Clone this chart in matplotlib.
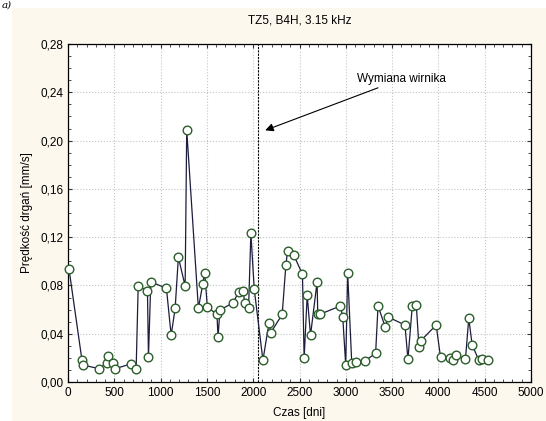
import matplotlib
matplotlib.use('Agg')
import matplotlib.pyplot as plt
from matplotlib.patches import Rectangle
from matplotlib.ticker import MultipleLocator, FuncFormatter

plt.rcParams['font.family'] = ['Liberation Sans', 'DejaVu Sans']

# czas [dni] i predkosc drgan [mm/s]
days = [10, 151, 165, 338, 420, 434, 481, 506, 682, 736, 758, 858, 869, 894,
        1063, 1114, 1157, 1192, 1265, 1282, 1408, 1455, 1476, 1505, 1609, 1620,
        1641, 1785, 1843, 1893, 1907, 1950, 1975, 2011, 2105, 2170, 2191, 2313,
        2353, 2371, 2439, 2532, 2550, 2583, 2619, 2690, 2697, 2726, 2942, 2967,
        2999, 3020, 3064, 3114, 3211, 3322, 3348, 3427, 3455, 3639, 3671, 3718,
        3761, 3790, 3807, 3976, 4023, 4127, 4159, 4192, 4292, 4328, 4364, 4436,
        4469, 4533]
velocity = [0.094, 0.018, 0.014, 0.011, 0.016, 0.0215, 0.016, 0.011, 0.015,
            0.011, 0.0795, 0.0754, 0.0207, 0.083, 0.0776, 0.0387, 0.061, 0.1033,
            0.0795, 0.209, 0.061, 0.081, 0.0906, 0.0621, 0.056, 0.037, 0.0597,
            0.0657, 0.0748, 0.0757, 0.0652, 0.0616, 0.1234, 0.077, 0.018, 0.0486,
            0.041, 0.056, 0.097, 0.1085, 0.105, 0.0892, 0.0196, 0.0718, 0.0387,
            0.083, 0.0563, 0.0563, 0.063, 0.0539, 0.0141, 0.0906, 0.016, 0.0163,
            0.0177, 0.0238, 0.063, 0.0453, 0.0539, 0.0472, 0.0188, 0.063, 0.064,
            0.0293, 0.034, 0.0472, 0.0204, 0.0199, 0.018, 0.0221, 0.0188, 0.0528,
            0.031, 0.018, 0.0188, 0.018]
replacement_day = 2055

fig = plt.figure(figsize=(5.46, 4.21), dpi=100, facecolor='white')
fig.patches.append(Rectangle((12 / 546, 0), 1, 1 - 8 / 421, transform=fig.transFigure,
                             facecolor='#fdf8ee', edgecolor='none', zorder=-10))
fig.text(2 / 546, 1 - 1 / 421, 'a)', fontsize=7.5, style='italic', family='DejaVu Serif',
         va='top', ha='left')

ax = fig.add_axes([68 / 546, 1 - 382 / 421, 463 / 546, 338 / 421])
ax.set_facecolor('white')

ax.plot(days, velocity, color='#1c1c3c', lw=0.9, marker='o', markersize=6.2,
        markerfacecolor='white', markeredgecolor='#2b5e2b', markeredgewidth=1.0,
        clip_on=False, zorder=3)

ax.axvline(replacement_day, color='black', lw=0.8, ls=(0, (2, 1)), zorder=2)
ax.annotate('Wymiana wirnika', xy=(2130, 0.2085), xytext=(3120, 0.251),
            fontsize=8.5, va='center', ha='left',
            arrowprops=dict(arrowstyle='-|>', color='black', lw=0.8,
                            mutation_scale=12, shrinkA=0, shrinkB=0))

ax.set_xlim(0, 5000)
ax.set_ylim(0, 0.28)
ax.xaxis.set_major_locator(MultipleLocator(500))
ax.xaxis.set_minor_locator(MultipleLocator(100))
ax.yaxis.set_major_locator(MultipleLocator(0.04))
ax.yaxis.set_minor_locator(MultipleLocator(0.01))
ax.yaxis.set_major_formatter(FuncFormatter(lambda v, p: f'{v:.2f}'.replace('.', ',')))
ax.tick_params(which='both', direction='in', top=True, right=True, labelsize=8.5,
               color='#333333')
ax.tick_params(which='major', length=3)
ax.tick_params(which='minor', length=2)
ax.grid(True, which='major', color='#c4c4c4', ls=':', lw=0.8)
for s in ax.spines.values():
    s.set_linewidth(0.9)

ax.set_title('TZ5, B4H, 3.15 kHz', fontsize=8.5, pad=15)
ax.set_xlabel('Czas [dni]', fontsize=8.5, labelpad=6)
ax.set_ylabel('Prędkość drgań [mm/s]', fontsize=8.5, labelpad=5)

fig.savefig('out.png', dpi=100, facecolor=fig.get_facecolor())
